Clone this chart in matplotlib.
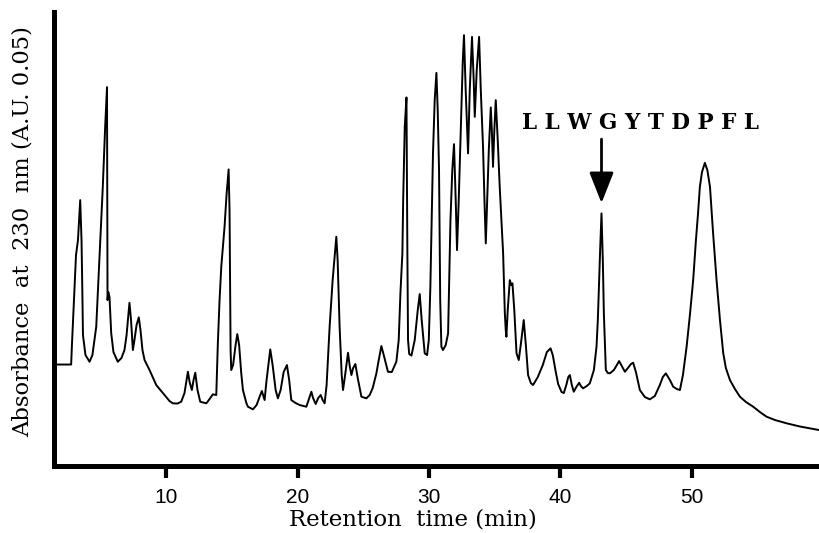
import matplotlib
matplotlib.use("Agg")
import matplotlib.pyplot as plt

time_min = [
    1.49, 2.76, 2.82, 3.01, 3.13, 3.28, 3.45, 3.55, 3.60, 3.66, 3.85, 4.16, 4.38, 4.67, 4.92,
    5.17, 5.35, 5.49, 5.51, 5.53, 5.59, 5.68, 5.81, 5.98, 6.31, 6.59, 6.82, 6.98, 7.20, 7.32,
    7.46, 7.58, 7.74, 7.91, 8.04, 8.19, 8.35, 8.73, 9.24, 9.87, 10.25, 10.50, 10.86, 11.14, 11.39,
    11.65, 11.78, 11.95, 12.08, 12.21, 12.38, 12.59, 13.05, 13.30, 13.55, 13.81, 13.93, 14.06, 14.19, 14.44,
    14.59, 14.75, 14.82, 14.87, 14.90, 14.95, 15.09, 15.28, 15.41, 15.55, 15.71, 15.84, 16.10, 16.22, 16.60,
    16.88, 17.11, 17.28, 17.49, 17.64, 17.92, 18.10, 18.33, 18.50, 18.71, 18.94, 19.19, 19.36, 19.52, 19.85,
    20.16, 20.67, 20.84, 21.05, 21.18, 21.38, 21.57, 21.76, 21.91, 22.06, 22.21, 22.44, 22.67, 22.86, 22.95,
    23.05, 23.20, 23.36, 23.46, 23.62, 23.84, 23.97, 24.10, 24.23, 24.40, 24.58, 24.86, 25.24, 25.49, 25.72,
    26.00, 26.18, 26.38, 26.56, 26.88, 27.17, 27.52, 27.70, 27.83, 27.98, 28.04, 28.16, 28.29, 28.36, 28.41,
    28.50, 28.67, 28.92, 29.15, 29.30, 29.45, 29.68, 29.86, 29.99, 30.11, 30.21, 30.31, 30.44, 30.57, 30.67,
    30.77, 30.86, 30.95, 31.07, 31.28, 31.46, 31.64, 31.78, 31.91, 32.04, 32.14, 32.27, 32.48, 32.58, 32.67,
    32.80, 32.98, 33.11, 33.28, 33.41, 33.49, 33.64, 33.82, 33.95, 34.12, 34.25, 34.33, 34.44, 34.56, 34.71,
    34.79, 34.88, 34.98, 35.09, 35.24, 35.39, 35.65, 35.78, 35.85, 35.90, 36.00, 36.16, 36.27, 36.36, 36.50,
    36.67, 36.84, 36.99, 37.22, 37.38, 37.55, 37.76, 37.93, 38.29, 38.67, 38.98, 39.26, 39.43, 39.66, 39.84,
    40.10, 40.27, 40.46, 40.61, 40.73, 40.88, 41.03, 41.22, 41.44, 41.57, 41.74, 42.02, 42.25, 42.56, 42.76,
    42.86, 42.96, 43.05, 43.14, 43.24, 43.32, 43.47, 43.62, 43.78, 44.08, 44.31, 44.48, 44.69, 44.92, 45.15,
    45.38, 45.55, 45.76, 46.06, 46.44, 46.82, 47.20, 47.58, 47.81, 48.04, 48.35, 48.60, 48.88, 49.11, 49.34,
    49.62, 49.87, 50.12, 50.33, 50.48, 50.63, 50.79, 51.01, 51.20, 51.40, 51.62, 51.90, 52.16, 52.41, 52.61,
    52.92, 53.30, 53.68, 54.14, 54.69, 55.20, 55.71, 56.35, 57.24, 58.25, 59.70,
]
absorbance = [
    10.15, 10.15, 12.1, 17.6, 21.1, 22.6, 26.6, 22.6, 18.6, 13.1, 11.1, 10.43, 11.1, 13.93, 20.93,
    27.93, 33.93, 37.9, 26.6, 16.6, 17.4, 16.9, 13.3, 11.4, 10.43, 10.8, 11.6, 13.1, 16.33, 14.6,
    11.6, 12.6, 14.1, 14.87, 13.6, 11.6, 10.6, 9.6, 8.1, 7.1, 6.5, 6.27, 6.25, 6.43, 7.3,
    9.43, 8.4, 7.6, 8.6, 9.33, 7.6, 6.43, 6.27, 6.7, 7.17, 7.1, 12.3, 16.6, 19.93, 23.93,
    27.1, 29.67, 25.6, 16.6, 11.6, 9.6, 10.1, 12.1, 13.2, 12.1, 9.3, 7.6, 6.3, 5.93, 5.67,
    6.1, 6.93, 7.5, 6.6, 8.6, 11.67, 10.1, 7.6, 6.77, 7.6, 9.4, 10.1, 8.6, 6.6, 6.3,
    6.1, 5.93, 6.6, 7.43, 6.8, 6.2, 6.8, 7.1, 6.6, 6.27, 8.1, 13.93, 18.6, 21.6, 22.93,
    20.6, 13.93, 9.1, 7.6, 9.1, 11.33, 10.0, 9.1, 9.8, 10.2, 8.8, 6.93, 6.77, 7.1, 7.8,
    9.27, 10.6, 12.0, 11.1, 9.43, 9.4, 10.43, 12.6, 17.27, 21.3, 26.6, 33.93, 36.87, 21.3, 12.6,
    11.2, 11.05, 12.6, 15.6, 17.2, 14.6, 11.27, 11.1, 12.6, 17.93, 24.6, 31.27, 36.6, 39.33, 35.6,
    29.6, 16.6, 11.93, 11.6, 12.1, 13.27, 24.6, 29.6, 32.2, 26.6, 21.6, 26.6, 36.27, 40.6, 43.1,
    37.6, 31.27, 37.6, 42.93, 38.6, 34.93, 39.6, 42.93, 37.6, 31.93, 25.6, 22.27, 26.6, 31.6, 35.87,
    33.6, 29.93, 33.6, 36.6, 32.6, 27.93, 21.27, 15.3, 13.6, 12.93, 15.6, 18.6, 18.1, 18.27, 15.6,
    11.27, 10.6, 12.1, 14.6, 12.1, 9.1, 8.3, 8.1, 8.9, 10.1, 11.4, 11.77, 11.1, 9.4, 8.2,
    7.4, 7.3, 8.1, 8.9, 9.1, 8.1, 7.43, 7.9, 8.33, 8.0, 7.77, 8.0, 8.27, 9.6, 11.93,
    14.6, 18.6, 22.1, 25.27, 20.6, 15.27, 9.6, 9.3, 9.27, 9.6, 10.1, 10.5, 10.0, 9.43, 9.8,
    10.2, 10.33, 9.4, 7.6, 6.9, 6.67, 7.0, 8.1, 8.9, 9.27, 8.6, 7.93, 7.7, 7.6, 9.1,
    11.93, 15.1, 18.6, 22.6, 25.1, 27.93, 29.4, 30.33, 29.6, 27.93, 23.6, 18.6, 14.6, 11.27, 9.8,
    8.6, 7.7, 6.93, 6.4, 5.93, 5.4, 4.93, 4.6, 4.27, 3.95, 3.6,
]

x_ticks = [10, 20, 30, 40, 50]
x_tick_labels = ["10", "20", "30", "40", "50"]
x_range = (1.49, 59.7)
y_range = (0.0, 45.43)

peptide_label = "L L W G Y T D P F L"
peptide_time = 43.14          # marked peak
arrow_top, arrow_tip = 32.7, 26.3
label_time, label_abs = 46.14, 34.3

x_title = "Retention  time (min)"
y_title = "Absorbance  at  230  nm (A.U. 0.05)"

fig = plt.figure(figsize=(8.19, 5.33), dpi=100)
ax = fig.add_axes([0.0665, 0.1257, 0.9335, 0.852])

ax.plot(time_min, absorbance, color="black", lw=1.4, solid_joinstyle="round")

ax.set_xlim(*x_range)
ax.set_ylim(*y_range)
ax.set_xticks(x_ticks)
ax.set_xticklabels(x_tick_labels, fontfamily="Liberation Sans", fontsize=15)
ax.set_yticks([])
for s in ("top", "right"):
    ax.spines[s].set_visible(False)
for s in ("left", "bottom"):
    ax.spines[s].set_linewidth(3.6)
    ax.spines[s].set_color("black")
ax.tick_params(axis="x", direction="out", length=8.6, width=3, pad=7, color="black")

ax.annotate("", xy=(peptide_time, arrow_tip), xytext=(peptide_time, arrow_top),
            arrowprops=dict(arrowstyle="-|>,head_length=1.9,head_width=0.75",
                            lw=2, color="black", shrinkA=0, shrinkB=0))
ax.text(label_time, label_abs, peptide_label, ha="center", va="center",
        fontfamily="DejaVu Serif", fontweight="bold", fontsize=15.5)

fig.text(0.028, 0.566, y_title, rotation=90, ha="center", va="center",
         fontfamily="DejaVu Serif", fontsize=16.3)
fig.text(0.504, 0.0244, x_title, ha="center", va="center",
         fontfamily="DejaVu Serif", fontsize=16.5)

fig.savefig("out.png", dpi=100)
